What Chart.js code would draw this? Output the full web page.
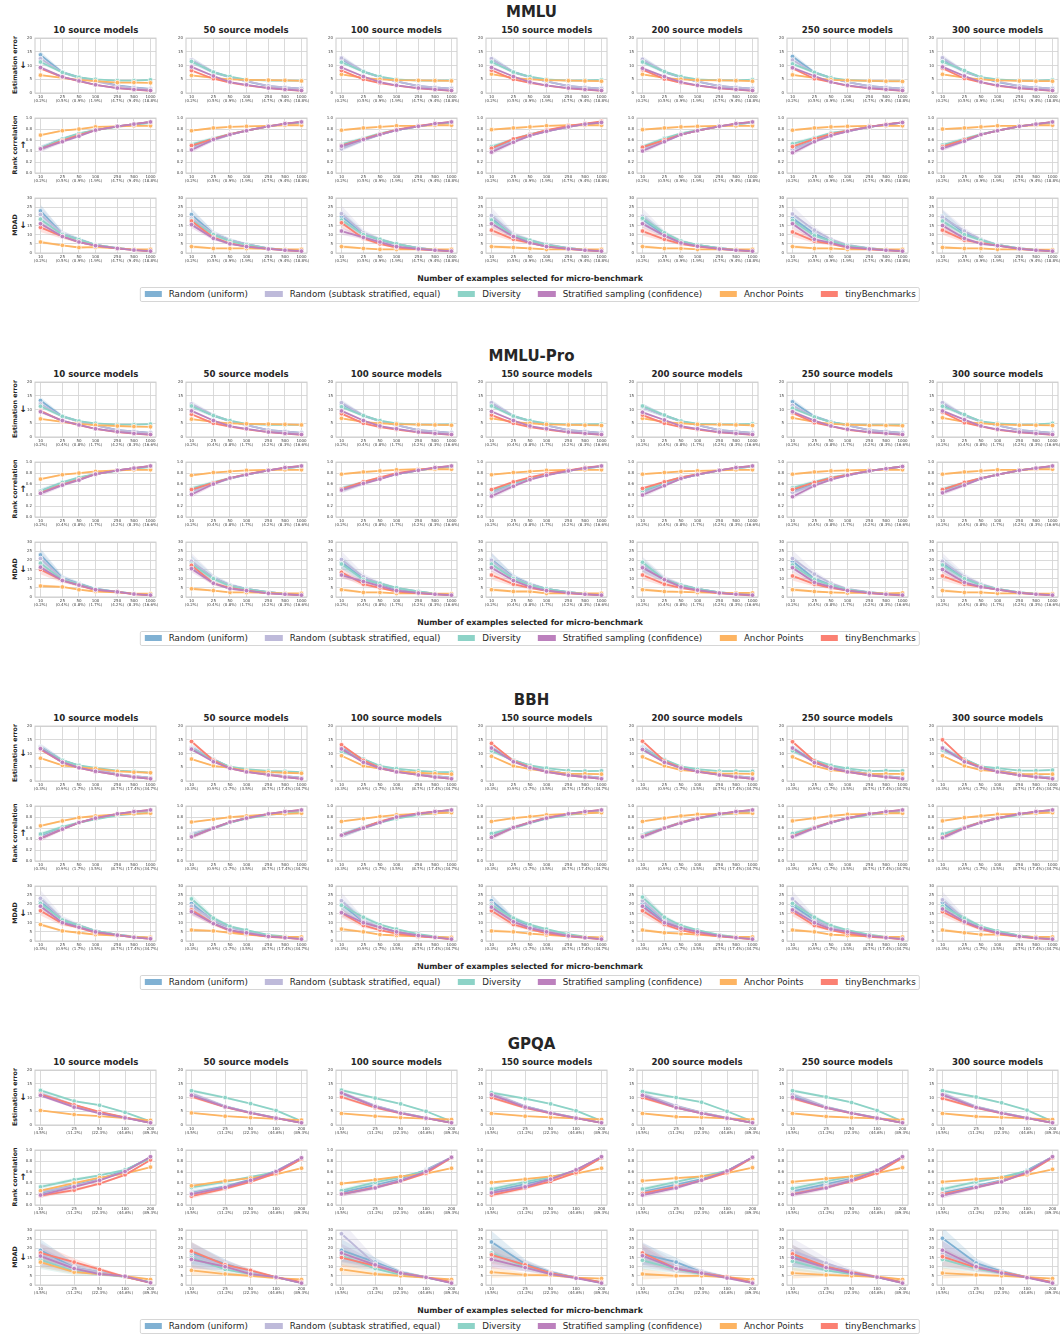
<!DOCTYPE html>
<html>
<head>
<meta charset="utf-8">
<script src="https://cdn.jsdelivr.net/npm/chart.js@4.4.0/dist/chart.umd.min.js"></script>
<style>
  body { margin: 0; background: #fff; font-family: "DejaVu Sans", sans-serif; color: #262626; }
  #fig { position: relative; width: 1063px; height: 1334px; overflow: hidden; background: #fff; }
  .abs { position: absolute; white-space: nowrap; line-height: 1; }
  .sec-title { font-size: 15px; font-weight: bold; transform: translate(-50%, -50%); }
  .col-title { font-size: 8.6px; font-weight: bold; transform: translate(-50%, -50%); }
  .ylab { font-size: 6.3px; font-weight: bold; transform: translate(-50%, -50%) rotate(-90deg); }
  .arrow { font-size: 9px; font-weight: bold; transform: translate(-50%, -50%); }
  .xlab { font-size: 7.8px; font-weight: bold; transform: translate(-50%, -50%); }
  .legend { display: flex; align-items: center; height: 15px; box-sizing: border-box; padding: 0 3.5px;
            border: 1px solid #d6d6d6; border-radius: 2px; background: #fff; font-size: 8.7px; transform: translateX(-50%); }
  .legend .item { display: flex; align-items: center; margin-right: 17.4px; }
  .legend .item:last-child { margin-right: 0; }
  .legend .patch { width: 17.4px; height: 6px; margin-right: 7px; }
  canvas { position: absolute; }
</style>
</head>
<body>
<div id="fig"></div>
<script>
/* ========== DATA ========== */
const benchmarks = ["MMLU", "MMLU-Pro", "BBH", "GPQA"];
const sourceModels = [10, 50, 100, 150, 200, 250, 300];
const metricLabels = ["Estimation error", "Rank correlation", "MDAD"];
const metricArrows = ["↓", "↑", "↓"];
const seriesNames = ["Random (uniform)", "Random (subtask stratified, equal)", "Diversity",
                     "Stratified sampling (confidence)", "Anchor Points", "tinyBenchmarks"];
const seriesColors = ["#80b1d3", "#bebada", "#8dd3c7", "#bc80bd", "#fdb462", "#fb8072"];

const xLarge = [10, 25, 50, 100, 250, 500, 1000];
const xGpqa = [10, 25, 50, 100, 200];
const pctMmlu = ["0.2%", "0.5%", "0.9%", "1.9%", "4.7%", "9.4%", "18.8%"];
const pctMmluPro = ["0.2%", "0.4%", "0.8%", "1.7%", "4.2%", "8.3%", "16.6%"];
const pctBbh = ["0.3%", "0.9%", "1.7%", "3.5%", "8.7%", "17.4%", "34.7%"];
const pctGpqa = ["4.5%", "11.2%", "22.3%", "44.6%", "89.3%"];

// [column][series][point], series order = seriesNames
const mmluErr = [
  [[13.9,7.5,5.8,4.5,2.8,2.0,1.5],[12.5,7.5,5.5,4.2,2.6,1.9,1.4],[11.3,7.5,5.7,5.0,4.5,4.5,4.8],[9.3,5.9,4.4,3.0,1.8,1.3,0.9],[6.5,5.5,4.8,4.3,3.8,3.8,3.7],[9.0,5.8,4.3,3.0,1.8,1.2,0.8]],
  [[11.8,7.5,5.8,4.2,2.5,2.0,1.6],[12.0,7.6,5.8,4.3,2.6,2.0,1.6],[11.5,7.6,6.0,4.9,4.5,4.5,4.5],[9.5,6.2,4.0,3.0,1.8,1.3,0.9],[6.4,5.5,5.0,4.8,4.7,4.6,4.4],[8.2,5.2,3.8,2.8,1.8,1.2,0.8]],
  [[12.3,7.8,5.8,4.2,2.5,2.0,1.6],[12.7,7.8,5.8,4.2,2.6,2.0,1.6],[11.2,7.8,6.0,5.0,4.5,4.5,4.6],[9.3,6.0,4.0,2.8,1.8,1.3,0.9],[6.8,5.5,5.0,4.7,4.6,4.5,4.4],[8.2,5.0,3.6,2.7,1.7,1.2,0.8]],
  [[12.3,7.6,5.8,4.2,2.5,2.0,1.6],[12.5,7.6,5.8,4.2,2.6,2.0,1.6],[11.3,7.6,6.0,5.0,4.5,4.6,4.8],[9.3,6.0,4.0,2.8,1.8,1.3,0.9],[6.9,5.5,5.0,4.7,4.5,4.4,4.3],[8.3,5.0,3.7,2.7,1.7,1.2,0.8]],
  [[12.0,7.6,5.7,4.1,2.5,2.0,1.6],[12.3,7.7,5.8,4.2,2.6,2.0,1.6],[11.3,7.8,6.0,5.0,4.6,4.6,4.9],[9.0,6.0,4.0,2.8,1.8,1.3,0.9],[6.8,5.5,5.0,4.7,4.6,4.5,4.3],[8.5,5.1,3.7,2.7,1.7,1.2,0.8]],
  [[13.3,7.5,5.5,4.0,2.5,2.0,1.6],[12.0,7.3,5.5,4.0,2.5,2.0,1.6],[10.6,7.5,5.5,4.7,4.4,4.2,4.3],[9.2,6.2,4.0,2.8,1.8,1.3,0.9],[6.6,5.5,4.8,4.6,4.4,4.3,4.2],[9.0,5.2,4.0,2.6,1.7,1.2,0.8]],
  [[12.3,7.8,5.7,4.0,2.5,2.0,1.6],[12.8,7.8,5.7,4.2,2.5,2.0,1.6],[11.4,8.2,5.8,5.0,4.5,4.5,4.8],[9.5,6.2,4.0,2.8,1.8,1.3,0.9],[6.8,5.6,5.0,4.6,4.4,4.3,4.3],[9.0,5.3,3.9,2.6,1.7,1.2,0.8]]
];
const mmluRank = [
  [[.45,.62,.71,.78,.85,.89,.93],[.42,.60,.70,.78,.85,.89,.92],[.45,.62,.72,.78,.84,.88,.91],[.44,.57,.67,.78,.85,.89,.93],[.69,.77,.80,.84,.85,.86,.86],[.44,.59,.69,.78,.85,.89,.93]],
  [[.48,.61,.70,.77,.85,.89,.93],[.45,.60,.70,.77,.85,.89,.92],[.52,.63,.71,.77,.85,.89,.92],[.42,.61,.70,.77,.85,.90,.93],[.77,.82,.84,.85,.86,.87,.87],[.50,.62,.71,.77,.85,.90,.93]],
  [[.46,.60,.70,.78,.85,.89,.92],[.44,.60,.70,.78,.85,.89,.92],[.52,.63,.72,.78,.85,.89,.92],[.49,.61,.70,.78,.85,.90,.93],[.78,.82,.84,.86,.86,.87,.87],[.50,.62,.71,.79,.86,.90,.93]],
  [[.44,.58,.69,.76,.84,.89,.92],[.42,.57,.68,.76,.84,.89,.92],[.48,.61,.71,.77,.85,.89,.92],[.38,.56,.68,.76,.84,.89,.92],[.79,.82,.84,.86,.87,.87,.87],[.45,.62,.70,.78,.86,.90,.94]],
  [[.44,.59,.70,.77,.85,.89,.92],[.43,.58,.70,.77,.85,.89,.92],[.48,.63,.72,.78,.85,.89,.92],[.40,.57,.70,.77,.85,.90,.93],[.79,.82,.84,.85,.86,.86,.86],[.47,.60,.70,.77,.85,.90,.93]],
  [[.44,.59,.70,.76,.84,.88,.92],[.43,.58,.69,.76,.84,.88,.92],[.53,.64,.73,.77,.84,.88,.92],[.37,.57,.68,.76,.84,.88,.92],[.78,.82,.84,.85,.86,.86,.86],[.48,.62,.71,.77,.84,.89,.92]],
  [[.48,.60,.70,.77,.85,.89,.92],[.46,.59,.70,.77,.85,.89,.92],[.51,.62,.71,.77,.85,.89,.92],[.45,.58,.70,.77,.85,.89,.93],[.80,.82,.84,.86,.86,.87,.87],[.48,.61,.70,.77,.85,.89,.93]]
];
const mmluMdad = [
  [[23,10.5,7.5,4.5,2.7,1.8,1.2],[21,10.5,7.2,4.5,2.7,1.8,1.2],[18.5,10,7.3,4.5,2.7,1.8,1.3],[16,9,6,4,2.5,1.6,1.0],[6,4.2,3,3.2,2.5,2.0,2.0],[14,9,6,4,2.5,1.6,0.9]],
  [[21,10.5,7,4.8,2.5,1.8,1.3],[19,10.5,7,4.8,2.5,1.8,1.3],[18,10,6.5,4.5,2.5,1.8,1.3],[15.5,8,5,3.5,2.2,1.5,1.0],[3.5,2.5,2.5,2.5,2.2,2.0,2.0],[17.5,8.5,5.2,3.5,2.2,1.5,0.9]],
  [[20,10.5,7,4.8,2.6,1.8,1.2],[21.5,11,7.5,5,2.8,1.8,1.2],[18,10,7.5,5,2.7,1.8,1.2],[12,8.5,6,3.5,2.2,1.5,1.0],[3.5,2.5,2,2,2,2,2],[16.5,8,5,3,2,1.5,0.9]],
  [[19,9.5,6.8,4.5,2.6,1.8,1.2],[20.5,10,7,4.8,2.7,1.8,1.2],[18,9.5,7,4.5,2.6,1.8,1.2],[16,9,5.5,3.5,2.2,1.5,1.0],[3.5,3,2.5,2,2,2,2],[12.5,7.5,5.5,3.5,2.2,1.5,0.9]],
  [[18.5,10,6,4.3,2.6,1.8,1.2],[20,10.5,6.5,4.3,2.6,1.8,1.2],[19,11,6.5,4.5,2.6,1.8,1.2],[16,9.5,5.5,3.7,2.2,1.5,1.0],[3.5,2.5,2.5,2,2,2,2],[12,7.5,5,3.5,2.2,1.5,0.9]],
  [[19,10.5,6.5,4,2.5,1.8,1.2],[21.3,12.5,7.5,4.5,2.6,1.8,1.2],[17.8,9.5,6.5,4,2.5,1.8,1.2],[16,7.5,5.5,3.2,2.2,1.5,1.0],[3.5,2.5,2.5,2,2,2,2],[11.5,6.5,5,3,2,1.5,0.9]],
  [[20,11,7,4.5,2.5,1.8,1.2],[19.5,12,7.5,4.5,2.5,1.8,1.2],[17.5,10,7,4.5,2.5,1.8,1.2],[15,8,5,4,2.3,1.5,1.0],[3,2.5,2.5,2,2,1.8,1.8],[12.5,7,5.5,4,2.3,1.5,0.9]]
];

const mmluProErr = [
  [[13.3,7.5,5.8,4.3,2.5,2.0,1.5],[12,7.5,5.6,4.2,2.5,2.0,1.5],[11.2,7.5,5.8,5.0,4.5,4.5,4.7],[9.2,6.0,4.4,3.0,1.9,1.3,0.9],[6.6,5.5,4.8,4.3,4.0,3.8,3.7],[9.5,5.8,4.3,3.0,1.8,1.2,0.8]],
  [[11.5,7.8,5.8,4.3,2.5,2.0,1.5],[12,8,5.8,4.3,2.5,2.0,1.5],[11.3,7.8,6.0,4.8,4.4,4.4,4.4],[9.5,6.0,4.0,3.0,1.8,1.3,0.9],[6.5,5.5,5.0,4.8,4.7,4.6,4.4],[8.3,5.0,3.8,2.8,1.8,1.2,0.8]],
  [[12,7.8,5.8,4.3,2.5,2.0,1.5],[12.5,7.8,5.8,4.3,2.5,2.0,1.5],[11,7.8,6.0,5.0,4.5,4.5,4.6],[9.5,6.0,4.0,3.0,1.8,1.3,0.9],[6.8,5.5,5.0,4.7,4.5,4.4,4.3],[8.5,5.0,3.6,2.7,1.7,1.2,0.8]],
  [[12.2,7.6,5.8,4.2,2.5,2.0,1.5],[12.5,7.6,5.8,4.2,2.5,2.0,1.5],[11.3,7.6,6.0,5.0,4.5,4.6,4.7],[9.3,6.0,4.0,3.0,1.8,1.3,0.9],[6.8,5.5,5.0,4.6,4.4,4.3,4.2],[8.0,5.0,3.6,2.7,1.7,1.2,0.8]],
  [[11,7.8,5.8,4.3,2.5,2.0,1.5],[11,7.8,5.8,4.3,2.5,2.0,1.5],[11.3,8.0,5.8,4.9,4.6,4.6,4.8],[9.0,6.2,4.0,3.0,1.8,1.3,0.9],[6.8,5.5,5.0,4.6,4.5,4.4,4.2],[8.0,5.0,3.6,2.7,1.7,1.2,0.8]],
  [[12.8,7.5,5.5,4.2,2.5,2.0,1.5],[11.5,7.3,5.5,4.2,2.5,2.0,1.5],[10.5,7.3,5.4,4.6,4.4,4.3,4.4],[9.2,6.0,4.0,2.8,1.8,1.3,0.9],[7.0,5.5,4.8,4.5,4.2,4.2,4.1],[8.8,5.2,4.0,2.6,1.7,1.2,0.8]],
  [[12,7.8,5.7,4.2,2.5,2.0,1.5],[12.5,7.8,5.7,4.2,2.5,2.0,1.5],[11.2,8.2,5.7,5.0,4.5,4.6,5.0],[9.5,6.3,4.0,2.8,1.8,1.3,0.9],[7.0,5.5,5.0,4.6,4.3,4.3,4.2],[9.0,5.2,3.9,2.6,1.7,1.2,0.8]]
];
const mmluProRank = [
  [[.47,.62,.71,.78,.85,.89,.92],[.44,.60,.70,.78,.85,.89,.92],[.47,.63,.72,.78,.84,.88,.91],[.43,.58,.67,.78,.85,.89,.93],[.69,.77,.80,.83,.85,.86,.86],[.44,.59,.68,.78,.85,.89,.93]],
  [[.48,.62,.70,.77,.85,.89,.92],[.46,.61,.70,.77,.85,.89,.92],[.52,.63,.71,.77,.85,.89,.92],[.41,.60,.71,.77,.85,.90,.93],[.76,.81,.83,.85,.86,.86,.86],[.50,.62,.71,.78,.85,.90,.93]],
  [[.50,.62,.71,.78,.85,.89,.92],[.48,.61,.70,.78,.85,.89,.92],[.52,.63,.71,.78,.85,.89,.92],[.49,.61,.69,.78,.85,.90,.93],[.78,.82,.84,.86,.87,.87,.87],[.51,.64,.72,.80,.86,.90,.93]],
  [[.46,.60,.70,.77,.84,.89,.92],[.44,.58,.69,.77,.84,.89,.92],[.48,.62,.71,.77,.84,.89,.92],[.38,.56,.68,.76,.84,.89,.93],[.77,.81,.83,.85,.86,.86,.86],[.50,.64,.72,.79,.85,.90,.93]],
  [[.46,.60,.70,.77,.85,.89,.92],[.44,.58,.70,.77,.85,.89,.92],[.48,.63,.72,.77,.85,.89,.92],[.40,.57,.70,.77,.85,.90,.93],[.78,.81,.83,.84,.85,.86,.86],[.52,.64,.72,.78,.85,.90,.93]],
  [[.47,.60,.70,.76,.84,.88,.92],[.45,.58,.69,.76,.84,.88,.92],[.53,.64,.72,.77,.84,.88,.92],[.37,.57,.68,.76,.84,.88,.92],[.78,.82,.84,.85,.86,.86,.86],[.50,.63,.71,.77,.84,.88,.92]],
  [[.48,.60,.70,.77,.85,.89,.92],[.46,.59,.70,.77,.85,.89,.92],[.51,.62,.71,.77,.85,.89,.92],[.44,.58,.70,.77,.85,.89,.93],[.78,.82,.84,.86,.86,.87,.87],[.50,.63,.71,.77,.85,.89,.93]]
];
const mmluProMdad = [
  [[23,10.5,7.3,4.5,2.8,1.8,1.2],[21,10,7,4.3,2.8,1.8,1.2],[18.5,9.5,7,4.3,2.8,1.8,1.2],[16.3,9,6.5,4,2.8,1.6,1.0],[6,5.5,4,3,2.5,1.8,1.8],[15,9,6.3,3.8,2.8,1.5,0.9]],
  [[19,10.5,6.5,4.5,2.6,1.8,1.2],[19.5,10.5,6.5,4.5,2.6,1.8,1.2],[18,10,6,4.3,2.6,1.8,1.2],[15.5,7.5,4.5,3.5,2.0,1.5,1.0],[4.5,3.5,2.5,2.5,2.2,2.0,2.0],[17.3,7.5,5,3.5,2.0,1.5,0.9]],
  [[19,10,7,4.5,2.8,1.8,1.2],[20.5,11,7.5,5,3,1.8,1.2],[18,9.5,7.5,5,3,1.8,1.2],[12,8.5,6,3.5,2.2,1.5,1.0],[4,2.5,2.5,2,2,1.8,1.8],[13.5,7,5,3,2,1.4,0.9]],
  [[20.5,11,7,4.5,2.6,1.8,1.2],[20,10.5,7,4.5,2.6,1.8,1.2],[18,10,6.5,4.5,2.6,1.8,1.2],[16,9,5.5,3.5,2.2,1.5,1.0],[4,3,3,2,2,2,2],[12,7,5,3.3,2,1.4,0.9]],
  [[17,9.5,6.5,4.5,2.5,1.8,1.2],[17.5,10,6.5,4.5,2.5,1.8,1.2],[19,9.5,6.5,4.5,2.5,1.8,1.2],[16,9.5,5.5,3.8,2.2,1.5,1.0],[4,3,2.8,2.5,2.2,2.2,2.2],[12,7,5,3.5,2,1.4,0.8]],
  [[19.5,10,6.5,4,2.5,1.8,1.2],[21,12.5,7.5,4.5,2.6,1.8,1.2],[17.5,9.5,6.5,4,2.5,1.8,1.2],[16,8,5.5,3.5,2.2,1.5,1.0],[4,3,2.5,2.2,2.2,2,2.2],[11.5,7,5,3.5,2,1.4,0.8]],
  [[18.5,10.5,6.5,4.3,2.5,1.8,1.2],[19.5,11,7,4.5,2.5,1.8,1.2],[17.5,10,6.5,4.5,2.5,1.8,1.2],[15,8,5.5,4,2.3,1.5,1.0],[3.5,2.5,2.5,2,2,1.8,1.8],[11.5,7,5.5,4,2.3,1.5,0.9]]
];

const bbhErr = [
  [[12.5,7.5,5.5,4.3,2.5,1.8,1.2],[12.3,7.5,5.5,4.3,2.5,1.8,1.2],[12,7.5,5.7,4.8,3.8,3.5,3.0],[11.8,6.8,4.8,3.5,2.2,1.4,0.8],[8.3,5.7,5.0,4.5,3.5,3.2,3.0],[11.5,6.8,4.8,3.5,2.2,1.4,0.8]],
  [[12.2,7.8,5.0,4.0,2.5,1.8,1.2],[12,8,5,4,2.5,1.8,1.2],[11.7,7.8,5.2,4.3,3.7,3.5,3.2],[11.6,7.0,4.6,3.3,2.2,1.4,0.8],[8.0,5.5,4.8,3.8,3.2,3.0,2.8],[14.4,7.5,4.6,3.3,2.2,1.4,0.8]],
  [[12,7.8,5.2,4.0,2.5,1.8,1.2],[11.5,7.8,5.2,4.0,2.5,1.8,1.2],[10.8,8.0,5.5,4.5,3.7,3.3,3.2],[11.7,6.8,4.6,3.3,2.2,1.4,0.8],[9.2,5.5,4.5,3.5,3.0,2.7,2.5],[13.2,7.5,4.8,3.3,2.2,1.4,0.8]],
  [[12.2,7.5,5.5,4.0,2.5,1.8,1.2],[12,7.5,5.5,4,2.5,1.8,1.2],[11,7.6,5.7,4.7,3.8,3.6,3.7],[12,7.0,4.8,3.3,2.1,1.4,0.8],[9,5.5,4.3,3.5,2.7,2.6,2.5],[13.7,7.3,5.0,3.3,2.1,1.4,0.8]],
  [[12.3,7.5,5.0,3.8,2.4,1.8,1.2],[12,7.5,5,3.8,2.4,1.8,1.2],[11.5,7.8,5.3,4.3,3.6,3.6,3.5],[11.5,6.8,4.7,3.4,2.2,1.4,0.8],[8.8,5.5,4.0,3.5,2.8,2.7,2.6],[14.5,7.3,4.8,3.3,2.2,1.4,0.8]],
  [[12,7.3,5.2,4,2.5,1.8,1.2],[11.5,7.3,5.2,4,2.5,1.8,1.2],[11,7.6,5.7,4.6,3.6,3.8,3.7],[12,6.7,4.6,3.3,2.1,1.4,0.8],[8.8,5.5,4.0,3.3,2.6,2.6,2.6],[14.3,7.3,4.7,3.3,2.1,1.4,0.8]],
  [[11.8,7.8,5.2,4,2.5,1.8,1.2],[11.5,7.8,5.2,4,2.5,1.8,1.2],[11.3,8.0,5.3,4.7,3.8,3.8,4.0],[12,7.0,4.8,3.3,2.1,1.4,0.8],[9.2,5.5,4.0,3.5,2.6,2.5,2.5],[15,7.5,5.0,3.3,2.1,1.4,0.8]]
];
const bbhRank = [
  [[.45,.60,.70,.77,.85,.89,.92],[.43,.59,.70,.77,.85,.89,.92],[.49,.62,.70,.76,.83,.86,.88],[.41,.58,.70,.78,.86,.90,.93],[.64,.73,.79,.82,.85,.86,.87],[.41,.58,.70,.78,.86,.90,.93]],
  [[.48,.60,.70,.78,.85,.89,.92],[.48,.60,.70,.78,.85,.89,.92],[.46,.60,.70,.77,.84,.87,.89],[.44,.60,.71,.78,.86,.90,.93],[.71,.76,.80,.82,.85,.86,.87],[.44,.60,.71,.78,.86,.90,.93]],
  [[.47,.62,.71,.79,.86,.90,.92],[.46,.61,.71,.79,.86,.90,.92],[.47,.60,.70,.77,.84,.87,.89],[.47,.60,.70,.80,.86,.90,.93],[.72,.77,.81,.84,.86,.87,.88],[.47,.61,.72,.80,.87,.90,.93]],
  [[.46,.61,.70,.78,.85,.89,.92],[.45,.61,.70,.78,.85,.89,.92],[.50,.60,.69,.77,.84,.87,.89],[.43,.61,.70,.78,.86,.90,.93],[.72,.78,.81,.84,.86,.87,.88],[.43,.61,.71,.79,.86,.90,.93]],
  [[.47,.60,.70,.78,.85,.89,.92],[.47,.60,.71,.78,.85,.89,.92],[.47,.60,.70,.77,.84,.87,.89],[.44,.60,.69,.77,.86,.90,.93],[.72,.78,.82,.85,.86,.87,.87],[.45,.60,.70,.78,.86,.90,.93]],
  [[.47,.61,.70,.78,.85,.89,.92],[.46,.61,.70,.78,.85,.89,.92],[.50,.61,.70,.77,.84,.87,.89],[.44,.60,.70,.78,.86,.90,.93],[.73,.78,.82,.85,.86,.87,.87],[.45,.61,.71,.78,.86,.90,.93]],
  [[.45,.61,.70,.78,.85,.89,.92],[.45,.61,.70,.78,.85,.89,.92],[.49,.61,.71,.77,.84,.88,.90],[.42,.60,.70,.78,.86,.90,.93],[.73,.79,.82,.85,.86,.87,.88],[.43,.61,.71,.78,.86,.90,.93]]
];
const bbhMdad = [
  [[21.5,11.5,8,5.5,3.3,2.2,1.4],[23.3,12,8.5,5.5,3.5,2.5,1.5],[20.5,11.5,8.5,5.5,3.5,2.4,1.5],[19,10,7.5,5,3.2,2.0,1.2],[9,5.5,4.5,3.5,3.0,2.3,2.0],[16.5,9.5,7.3,4.5,3.2,2.0,1.2]],
  [[20.5,11,7.5,5.5,3,2,1.4],[19,11.5,7.5,5.5,3,2,1.4],[23,12.5,8,6,3.3,2.5,1.5],[16,9.5,6,4.5,2.5,1.8,1.0],[6,5.5,4.5,3.5,2.5,2.3,2.2],[17,9.5,5.5,4,2.3,1.7,1.0]],
  [[20,10.5,7.5,5,3,2,1.3],[22,11,7.5,5,3,2,1.3],[19.5,13,9,6.5,3.8,2.5,1.5],[15.5,10,7.5,5,3,2,1.0],[6.5,5,3.5,3,2.5,2.2,2.0],[15.3,8.5,6,4,2.5,1.8,0.9]],
  [[22,12,8,5.5,3,2,1.3],[20.5,11,7.5,5.5,3,2,1.3],[19.5,12.5,9,6.5,3.8,2.4,1.5],[18.5,10.5,7,5,2.8,1.8,1.0],[5.5,5,4,3.3,2.6,2.2,2.0],[16.5,9,6.5,4.2,2.5,1.7,0.9]],
  [[20.5,11,7.5,5.5,3,2,1.3],[22,11.5,8,5.5,3,2,1.3],[24,13,8.5,6,3.3,2.2,1.4],[19,10,7,5,2.8,1.8,1.0],[6,4.5,4,3.5,2.5,2.3,2.2],[16.5,9,6,4,2.5,1.7,0.9]],
  [[19.5,11.5,7.5,5,3,2,1.3],[23,12,7.5,5.5,3,2,1.3],[20.5,13,8.5,6,3.5,2.2,1.4],[17,10,6.5,5,2.8,1.8,1.0],[6,5,3.5,3,2.5,2.2,2.2],[16,8.5,6,4,2.3,1.7,0.9]],
  [[21,11.5,7.5,5,2.8,1.8,1.2],[22.5,12,7.5,5,3,1.8,1.2],[19,12.5,8,5.5,3,2,1.3],[17.5,10.5,7,4.5,2.5,1.6,1.0],[6,4.5,3.5,3.5,2.5,2.3,2.2],[16,10,6.5,4,2.3,1.5,0.9]]
];

const gpqaErr = [
  [[11.3,7.2,4.5,2.7,0.8],[11.5,7,4.5,2.7,0.8],[12.6,8.7,7.2,4.6,1.3],[10.8,6.5,4.2,2.6,0.8],[5.3,3.8,3.2,2.5,1.7],[11.2,7.3,4.8,2.8,0.8]],
  [[11,6.8,4.5,2.6,0.8],[11.5,6.8,4.5,2.6,0.8],[12.5,10,7.8,5.3,1.4],[10.8,6.6,4.4,2.5,0.8],[4.4,3.2,2.7,2.2,1.8],[10.3,6.5,4.3,2.5,0.8]],
  [[11.5,7,4.5,2.6,0.8],[11.8,7,4.5,2.6,0.8],[12.7,9.8,7.7,5,1.3],[11.7,6.7,4.3,2.5,0.8],[4.2,3.2,2.7,2.3,2.0],[10.2,6.3,4.2,2.5,0.8]],
  [[11.3,6.8,4.5,2.6,0.8],[11.5,6.8,4.5,2.6,0.8],[11.8,9.6,7.7,5.2,1.5],[11,6.5,4.3,2.5,0.8],[4.2,3.2,2.8,2.4,2.0],[10,6.2,4.2,2.5,0.8]],
  [[11,6.8,4.5,2.6,0.8],[11.3,7,4.6,2.6,0.8],[12.2,10,8.3,5,1.3],[10.8,6.3,4.2,2.5,0.8],[4.2,3,2.8,2.4,2.0],[10,6.3,4.2,2.5,0.8]],
  [[10.8,6.5,4.4,2.6,0.8],[11.2,6.6,4.4,2.6,0.8],[12.5,10.2,8.2,5.3,1.3],[10.1,6.3,4.3,2.5,0.8],[4.2,3.1,2.7,2.4,1.9],[9.7,6.2,4.2,2.5,0.8]],
  [[11.2,6.6,4.5,2.6,0.8],[11.5,6.7,4.5,2.6,0.8],[12.5,10.2,8.1,5.4,1.3],[11,6.4,4.3,2.5,0.8],[4.2,3.1,2.8,2.4,2.0],[9.7,6.2,4.2,2.5,0.8]]
];
const gpqaRank = [
  [[.22,.36,.47,.63,.87],[.24,.35,.46,.61,.86],[.33,.46,.54,.64,.85],[.18,.33,.45,.61,.88],[.26,.40,.50,.57,.69],[.17,.27,.39,.55,.82]],
  [[.22,.34,.46,.62,.86],[.21,.32,.44,.61,.86],[.32,.42,.51,.60,.84],[.20,.32,.45,.61,.86],[.35,.44,.49,.56,.67],[.16,.30,.42,.58,.84]],
  [[.23,.36,.47,.64,.87],[.20,.33,.45,.63,.87],[.26,.41,.51,.62,.86],[.20,.31,.44,.61,.87],[.39,.46,.52,.57,.67],[.20,.32,.43,.58,.86]],
  [[.25,.38,.48,.63,.88],[.22,.35,.46,.63,.88],[.29,.42,.51,.61,.86],[.22,.33,.47,.64,.88],[.41,.47,.52,.57,.67],[.18,.31,.43,.59,.86]],
  [[.24,.37,.47,.62,.87],[.22,.34,.45,.62,.87],[.29,.42,.52,.62,.86],[.18,.31,.45,.62,.87],[.44,.49,.52,.58,.68],[.21,.33,.45,.59,.86]],
  [[.25,.38,.48,.63,.88],[.22,.35,.46,.63,.88],[.30,.43,.52,.62,.86],[.19,.31,.45,.63,.88],[.42,.48,.52,.58,.68],[.20,.32,.43,.58,.86]],
  [[.22,.35,.45,.63,.88],[.20,.33,.44,.61,.88],[.29,.42,.51,.62,.86],[.17,.32,.42,.60,.88],[.42,.47,.50,.55,.65],[.20,.32,.43,.58,.86]]
];
const gpqaMdad = [
  [[19,9.5,7,4.5,1.5],[16.5,9.5,7,4.5,1.5],[13.8,7.5,6,4.5,1.5],[15.8,9,6,4.8,1.2],[12.5,7,6,4.8,3],[17.5,12.5,8.5,4.5,1.2]],
  [[17.5,11.5,7.5,4.3,1.2],[16,11,7,4.3,1.2],[15,8.5,6,4.3,1.2],[14,10,6,4.3,1.0],[8,6,5,3.8,3],[18.5,11,8,4.3,1.5]],
  [[19,12.5,7,4.3,1.2],[28,11.5,6.8,4.3,1.2],[16,9,5.5,4,1.5],[17.5,11,6.5,4.2,1.0],[8.5,6,5,4,3],[15,10.5,6.5,4.3,1.5]],
  [[23.5,11.5,7,4,1.2],[17.5,10.5,6.8,4,1.2],[17.5,10,6.5,4,1.5],[14,9.5,6,3.7,1.0],[7,5.5,5.3,4,3.5],[16.5,11,6.5,4,1.5]],
  [[17,12.5,7,4.5,1.2],[16.5,10,7.5,4.3,1.2],[13.5,8.5,6,4.2,1.5],[16,9,6.5,3.8,1.0],[6,5,5,4.3,3],[17.5,9,6.5,4.5,1.5]],
  [[16,10,6.5,4.3,1.2],[18.5,12,7.5,4.5,1.2],[13,8,6,4.3,1.5],[15,9.5,6.5,4.3,1.0],[6.5,5.5,5,4.5,3],[17,10,7,4.5,1.5]],
  [[25.5,12,7.5,4.3,1.2],[17,10.5,7,4.3,1.2],[14,9,6.5,4.3,1.5],[19,10,6.5,4,1.0],[6.5,5.5,5,4.3,3.5],[15.5,9.5,7,4.3,1.5]]
];

// confidence band half-widths: [series][point]
const errBand = [[1.2,.6,.4,.3,.2,.2,.1],[1.2,.6,.4,.3,.2,.2,.1],[.8,.4,.3,.2,.2,.2,.2],[.6,.3,.2,.2,.1,.1,.1],[.3,.2,.2,.2,.1,.1,.1],[.5,.3,.2,.1,.1,.1,.1]];
const rankBand = [[.05,.03,.02,.015,.01,.01,.01],[.05,.03,.02,.015,.01,.01,.01],[.04,.03,.02,.015,.01,.01,.01],[.05,.03,.02,.015,.01,.01,.01],[.02,.015,.01,.01,.01,.01,.01],[.03,.02,.015,.01,.01,.01,.01]];
const mdadBand = [[3.5,1.5,1,.6,.3,.2,.2],[4.5,1.8,1,.6,.3,.2,.2],[2.5,1.2,.8,.5,.3,.2,.2],[2,1,.6,.4,.2,.2,.1],[1,.5,.4,.3,.2,.2,.2],[2.5,1.2,.7,.4,.2,.2,.1]];
const gpqaErrBand = [[.8,.5,.3,.2,.1],[.8,.5,.3,.2,.1],[.6,.4,.3,.2,.1],[.6,.4,.3,.2,.1],[.3,.2,.2,.1,.1],[.6,.4,.3,.2,.1]];
const gpqaRankBand = [[.05,.03,.02,.02,.01],[.05,.03,.02,.02,.01],[.04,.03,.02,.02,.01],[.05,.03,.02,.02,.01],[.02,.02,.01,.01,.01],[.04,.03,.02,.02,.01]];
const gpqaMdadBand = [[6,2.5,1,.5,.3],[7,3,1.2,.5,.3],[5,2,1,.5,.3],[5,2,1,.5,.3],[3,1,.7,.5,.3],[5,2,1,.5,.3]];

const metricMax = [20, 1, 30];
const metricStep = [5, 0.2, 5];

/* ========== LAYOUT ========== */
const fig = document.getElementById("fig");
const SEC = 344, ROW = 80, COL = 150.3;
const PW = 121, PH = 57, YW = 14, TP = 3, RP = 6, XH = 12;
const drawOrder = [5, 4, 3, 0, 2, 1]; // lower = drawn on top

const sections = [
  { x: xLarge, pct: pctMmlu, data: [mmluErr, mmluRank, mmluMdad], band: [errBand, rankBand, mdadBand] },
  { x: xLarge, pct: pctMmluPro, data: [mmluProErr, mmluProRank, mmluProMdad], band: [errBand, rankBand, mdadBand] },
  { x: xLarge, pct: pctBbh, data: [bbhErr, bbhRank, bbhMdad], band: [errBand, rankBand, mdadBand] },
  { x: xGpqa, pct: pctGpqa, data: [gpqaErr, gpqaRank, gpqaMdad], band: [gpqaErrBand, gpqaRankBand, gpqaMdadBand] }
];

function addText(cls, text, left, top) {
  const d = document.createElement("div");
  d.className = "abs " + cls;
  d.textContent = text;
  d.style.left = left + "px";
  d.style.top = top + "px";
  fig.appendChild(d);
  return d;
}

function withAlpha(hex, a) {
  const n = parseInt(hex.slice(1), 16);
  return `rgba(${n >> 16},${(n >> 8) & 255},${n & 255},${a})`;
}

const framePlugin = {
  id: "frame",
  beforeDatasetsDraw(chart) {
    const { ctx, chartArea: a } = chart;
    ctx.save();
    ctx.strokeStyle = "#cccccc";
    ctx.lineWidth = 1;
    ctx.strokeRect(a.left, a.top, a.right - a.left, a.bottom - a.top);
    ctx.restore();
  }
};

function makePanel(s, r, c) {
  const sec = sections[s];
  const xs = sec.x, vals = sec.data[r][c], band = sec.band[r];
  const left = 35.3 + COL * c, top = 36 + ROW * r + SEC * s;

  const cv = document.createElement("canvas");
  const W = YW + PW + RP, H = TP + PH + XH;
  cv.width = W; cv.height = H;
  cv.style.width = W + "px"; cv.style.height = H + "px";
  cv.style.left = (left - YW) + "px";
  cv.style.top = (top - TP) + "px";
  fig.appendChild(cv);

  const datasets = [];
  vals.forEach((v, i) => {
    const hw = band[i];
    datasets.push({ data: xs.map((x, k) => ({ x, y: v[k] + hw[k] })), borderWidth: 0, pointRadius: 0, fill: false, order: 20 });
    datasets.push({ data: xs.map((x, k) => ({ x, y: v[k] - hw[k] })), borderWidth: 0, pointRadius: 0,
                    fill: "-1", backgroundColor: withAlpha(seriesColors[i], 0.22), order: 20 });
  });
  vals.forEach((v, i) => {
    const col = seriesColors[i];
    datasets.push({
      data: xs.map((x, k) => ({ x, y: v[k] })),
      borderColor: col, backgroundColor: col, pointBackgroundColor: col,
      pointBorderColor: "#ffffff", pointBorderWidth: 0.7, pointRadius: 2.3,
      borderWidth: 1.8, fill: false, order: drawOrder[i]
    });
  });

  const lo = Math.log10(xs[0]), hi = Math.log10(xs[xs.length - 1]), m = 0.05 * (hi - lo);
  const tickFont = { family: "DejaVu Sans", size: 4, lineHeight: 1.05 };

  new Chart(cv, {
    type: "line",
    data: { datasets },
    options: {
      responsive: false, animation: false, events: [],
      layout: { padding: { top: TP, right: RP, left: 0, bottom: 0 } },
      plugins: { legend: { display: false }, tooltip: { enabled: false }, filler: { propagate: false } },
      scales: {
        x: {
          type: "logarithmic", min: Math.pow(10, lo - m), max: Math.pow(10, hi + m),
          afterBuildTicks: sc => { sc.ticks = xs.map(v => ({ value: v })); },
          afterFit: sc => { sc.height = XH; },
          ticks: { autoSkip: false, maxRotation: 0, minRotation: 0, padding: 1.5, color: "#444", font: tickFont,
                   callback: (v, i) => [String(xs[i]), "(" + sec.pct[i] + ")"] },
          grid: { color: "#d6d6d6", lineWidth: 0.9, drawTicks: false },
          border: { display: false }
        },
        y: {
          min: 0, max: metricMax[r],
          afterFit: sc => { sc.width = YW; },
          ticks: { stepSize: metricStep[r], padding: 3, color: "#444", font: tickFont,
                   callback: v => r === 1 ? Number(v).toFixed(1) : String(v) },
          grid: { color: "#d6d6d6", lineWidth: 0.9, drawTicks: false },
          border: { display: false }
        }
      }
    },
    plugins: [framePlugin]
  });
}

/* ========== BUILD FIGURE ========== */
benchmarks.forEach((name, s) => {
  const off = SEC * s;
  addText("sec-title", name, 531.5, 12 + off);
  sourceModels.forEach((n, c) => addText("col-title", n + " source models", 35.3 + COL * c + PW / 2, 30 + off));
  metricLabels.forEach((lab, r) => {
    const cy = 36 + ROW * r + PH / 2 + off;
    addText("ylab", lab, 15, cy);
    addText("arrow", metricArrows[r], 23.3, cy);
  });
  for (let r = 0; r < 3; r++)
    for (let c = 0; c < 7; c++) makePanel(s, r, c);

  addText("xlab", "Number of examples selected for micro-benchmark", 530, 279 + off);

  const lg = document.createElement("div");
  lg.className = "abs legend";
  lg.style.left = "530px";
  lg.style.top = (287 + off) + "px";
  seriesNames.forEach((nm, i) => {
    const it = document.createElement("div");
    it.className = "item";
    it.innerHTML = `<span class="patch" style="background:${seriesColors[i]}"></span><span>${nm}</span>`;
    lg.appendChild(it);
  });
  fig.appendChild(lg);
});
</script>
</body>
</html>
